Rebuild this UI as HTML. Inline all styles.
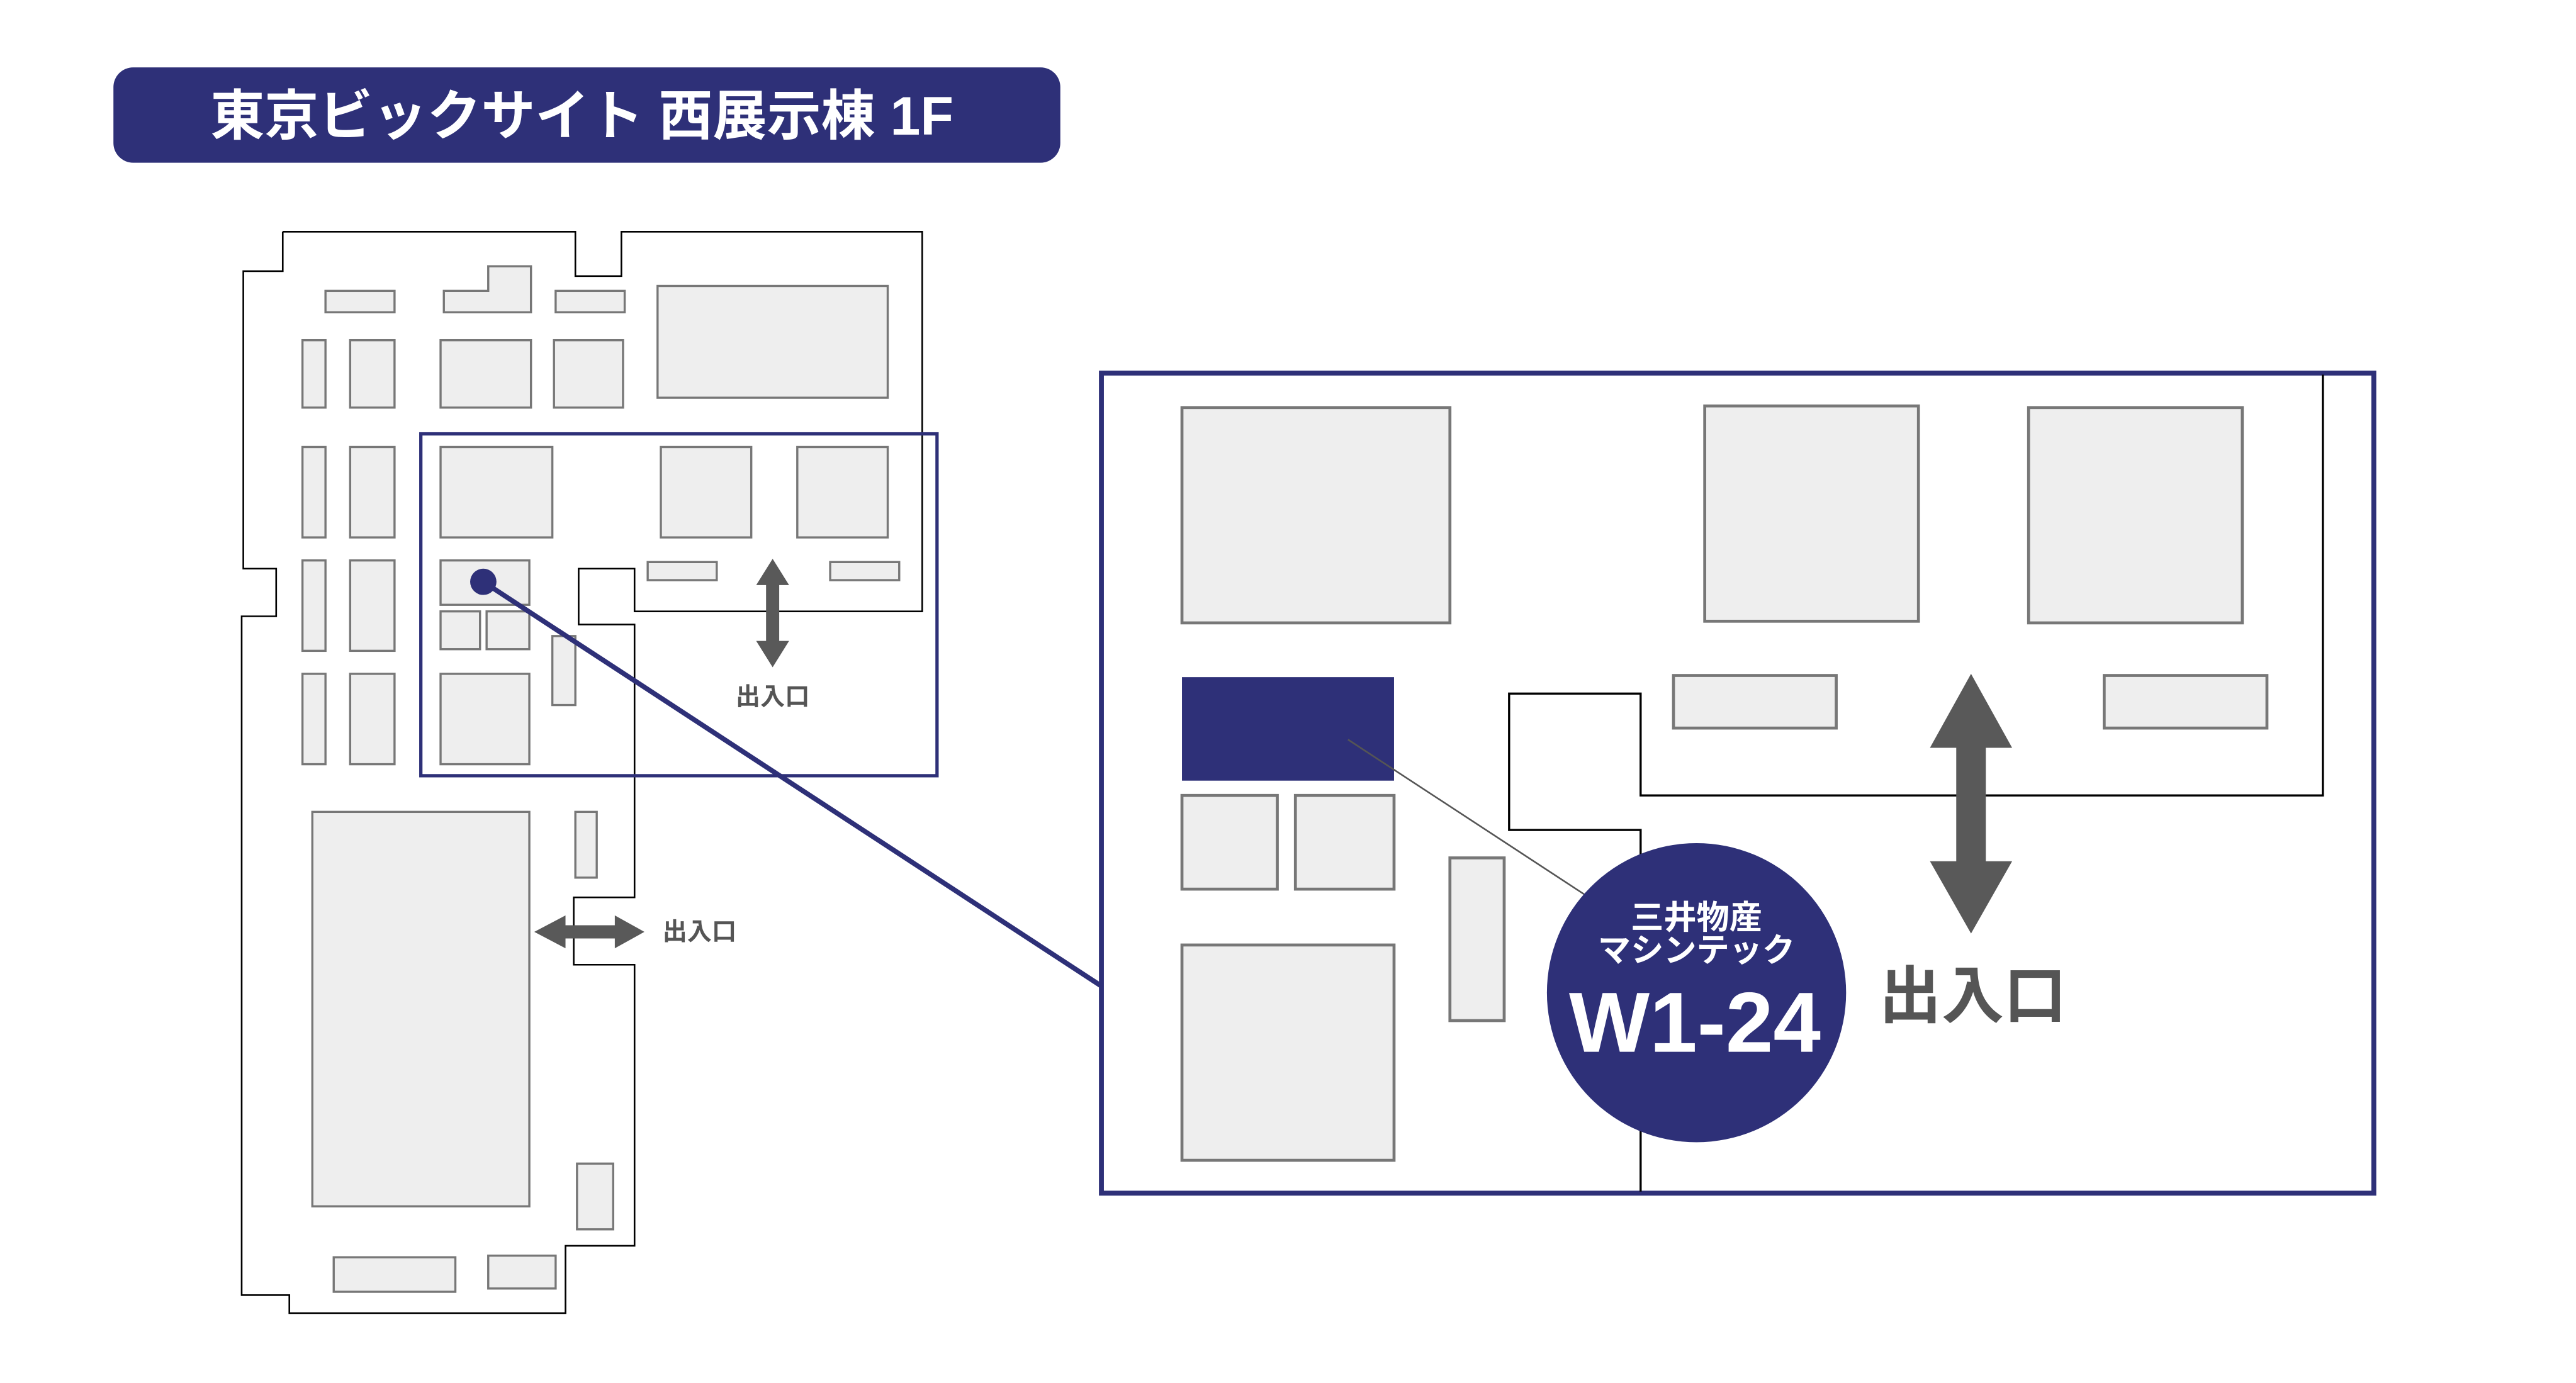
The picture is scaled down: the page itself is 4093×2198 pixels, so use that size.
<!DOCTYPE html>
<html><head><meta charset="utf-8"><style>
html,body{margin:0;padding:0;background:#fff;}
svg{display:block;}
text{font-family:"Liberation Sans","Noto Sans CJK JP",sans-serif;font-weight:bold;}
</style></head><body>
<svg width="4093" height="2198" viewBox="0 0 1567 841.5" preserveAspectRatio="none" xmlns="http://www.w3.org/2000/svg">
<rect x="0" y="0" width="1567" height="842" fill="#fff"/>
<rect x="69" y="41" width="576" height="58" rx="12" fill="#2e3078"/>
<text x="354" y="82" fill="#fff" font-size="33" text-anchor="middle" textLength="452" lengthAdjust="spacingAndGlyphs">東京ビックサイト 西展示棟 1F</text>

<polyline fill="none" stroke="#000" stroke-width="1" points="172,141 350,141 350,168 378,168 378,141 561,141 561,372 386,372 386,346 352,346 352,380 386,380 386,546 349,546 349,587 386,587 386,758 344,758 344,799 176,799 176,788 147,788 147,375 168,375 168,346 148,346 148,165 172,165 172,141"/>

<g fill="#eeeeee" stroke="#777" stroke-width="1.3">
<rect x="198" y="177" width="42" height="13"/>
<polygon points="270,177 297,177 297,162 323,162 323,190 270,190"/>
<rect x="338" y="177" width="42" height="13"/>
<rect x="400" y="174" width="140" height="68"/>
<rect x="184" y="207" width="14" height="41"/>
<rect x="213" y="207" width="27" height="41"/>
<rect x="268" y="207" width="55" height="41"/>
<rect x="337" y="207" width="42" height="41"/>
<rect x="184" y="272" width="14" height="55"/>
<rect x="213" y="272" width="27" height="55"/>
<rect x="268" y="272" width="68" height="55"/>
<rect x="402" y="272" width="55" height="55"/>
<rect x="485" y="272" width="55" height="55"/>
<rect x="184" y="341" width="14" height="55"/>
<rect x="213" y="341" width="27" height="55"/>
<rect x="268" y="341" width="54" height="27"/>
<rect x="394" y="342" width="42" height="11"/>
<rect x="505" y="342" width="42" height="11"/>
<rect x="268" y="372" width="24" height="23"/>
<rect x="296" y="372" width="26" height="23"/>
<rect x="336" y="387" width="14" height="42"/>
<rect x="184" y="410" width="14" height="55"/>
<rect x="213" y="410" width="27" height="55"/>
<rect x="268" y="410" width="54" height="55"/>
<rect x="190" y="494" width="132" height="240"/>
<rect x="350" y="494" width="13" height="40"/>
<rect x="351" y="708" width="22" height="40"/>
<rect x="203" y="765" width="74" height="21"/>
<rect x="297" y="764" width="41" height="20"/>
</g>
<rect x="256" y="264" width="314" height="208" fill="none" stroke="#2e3078" stroke-width="2"/>
<g fill="#595959">
<polygon points="470,340 480,356 474,356 474,390 480,390 470,406 460,390 466,390 466,356 460,356"/>
<polygon points="325,567 344,557 344,563 374,563 374,557 392,567 374,577 374,571 344,571 344,577"/>
</g>
<text x="470" y="429" fill="#555" font-size="15" text-anchor="middle">出入口</text>
<text x="403" y="572" fill="#555" font-size="15">出入口</text>

<line x1="294" y1="354" x2="670" y2="600" stroke="#2e3078" stroke-width="3"/>
<circle cx="294" cy="354" r="8" fill="#2e3078"/>

<rect x="670" y="227" width="774" height="499" fill="#fff" stroke="#2e3078" stroke-width="3"/>
<polyline fill="none" stroke="#000" stroke-width="1.3" points="1413,228 1413,484 998,484 998,422 918,422 918,505 998,505 998,725"/>
<g fill="#eeeeee" stroke="#777" stroke-width="1.8">
<rect x="719" y="248" width="163" height="131"/>
<rect x="1037" y="247" width="130" height="131"/>
<rect x="1234" y="248" width="130" height="131"/>
<rect x="1018" y="411" width="99" height="32"/>
<rect x="1280" y="411" width="99" height="32"/>
<rect x="719" y="484" width="58" height="57"/>
<rect x="788" y="484" width="60" height="57"/>
<rect x="882" y="522" width="33" height="99"/>
<rect x="719" y="575" width="129" height="131"/>
</g>
<rect x="719" y="412" width="129" height="63" fill="#2e3078"/>
<line x1="820" y1="450" x2="965" y2="545" stroke="#555" stroke-width="1"/>
<polygon points="1199,410 1224,455 1208,455 1208,524 1224,524 1199,568 1174,524 1190,524 1190,455 1174,455" fill="#595959"/>
<circle cx="1032" cy="604" r="91" fill="#2e3078"/>
<text x="1032" y="565" fill="#fff" font-size="20" text-anchor="middle">三井物産</text>
<text x="1032" y="585" fill="#fff" font-size="20" text-anchor="middle">マシンテック</text>
<text x="1031" y="640" fill="#fff" font-size="52" text-anchor="middle">W1-24</text>
<text x="1200" y="619" fill="#555" font-size="38" text-anchor="middle">出入口</text>
</svg>
</body></html>
